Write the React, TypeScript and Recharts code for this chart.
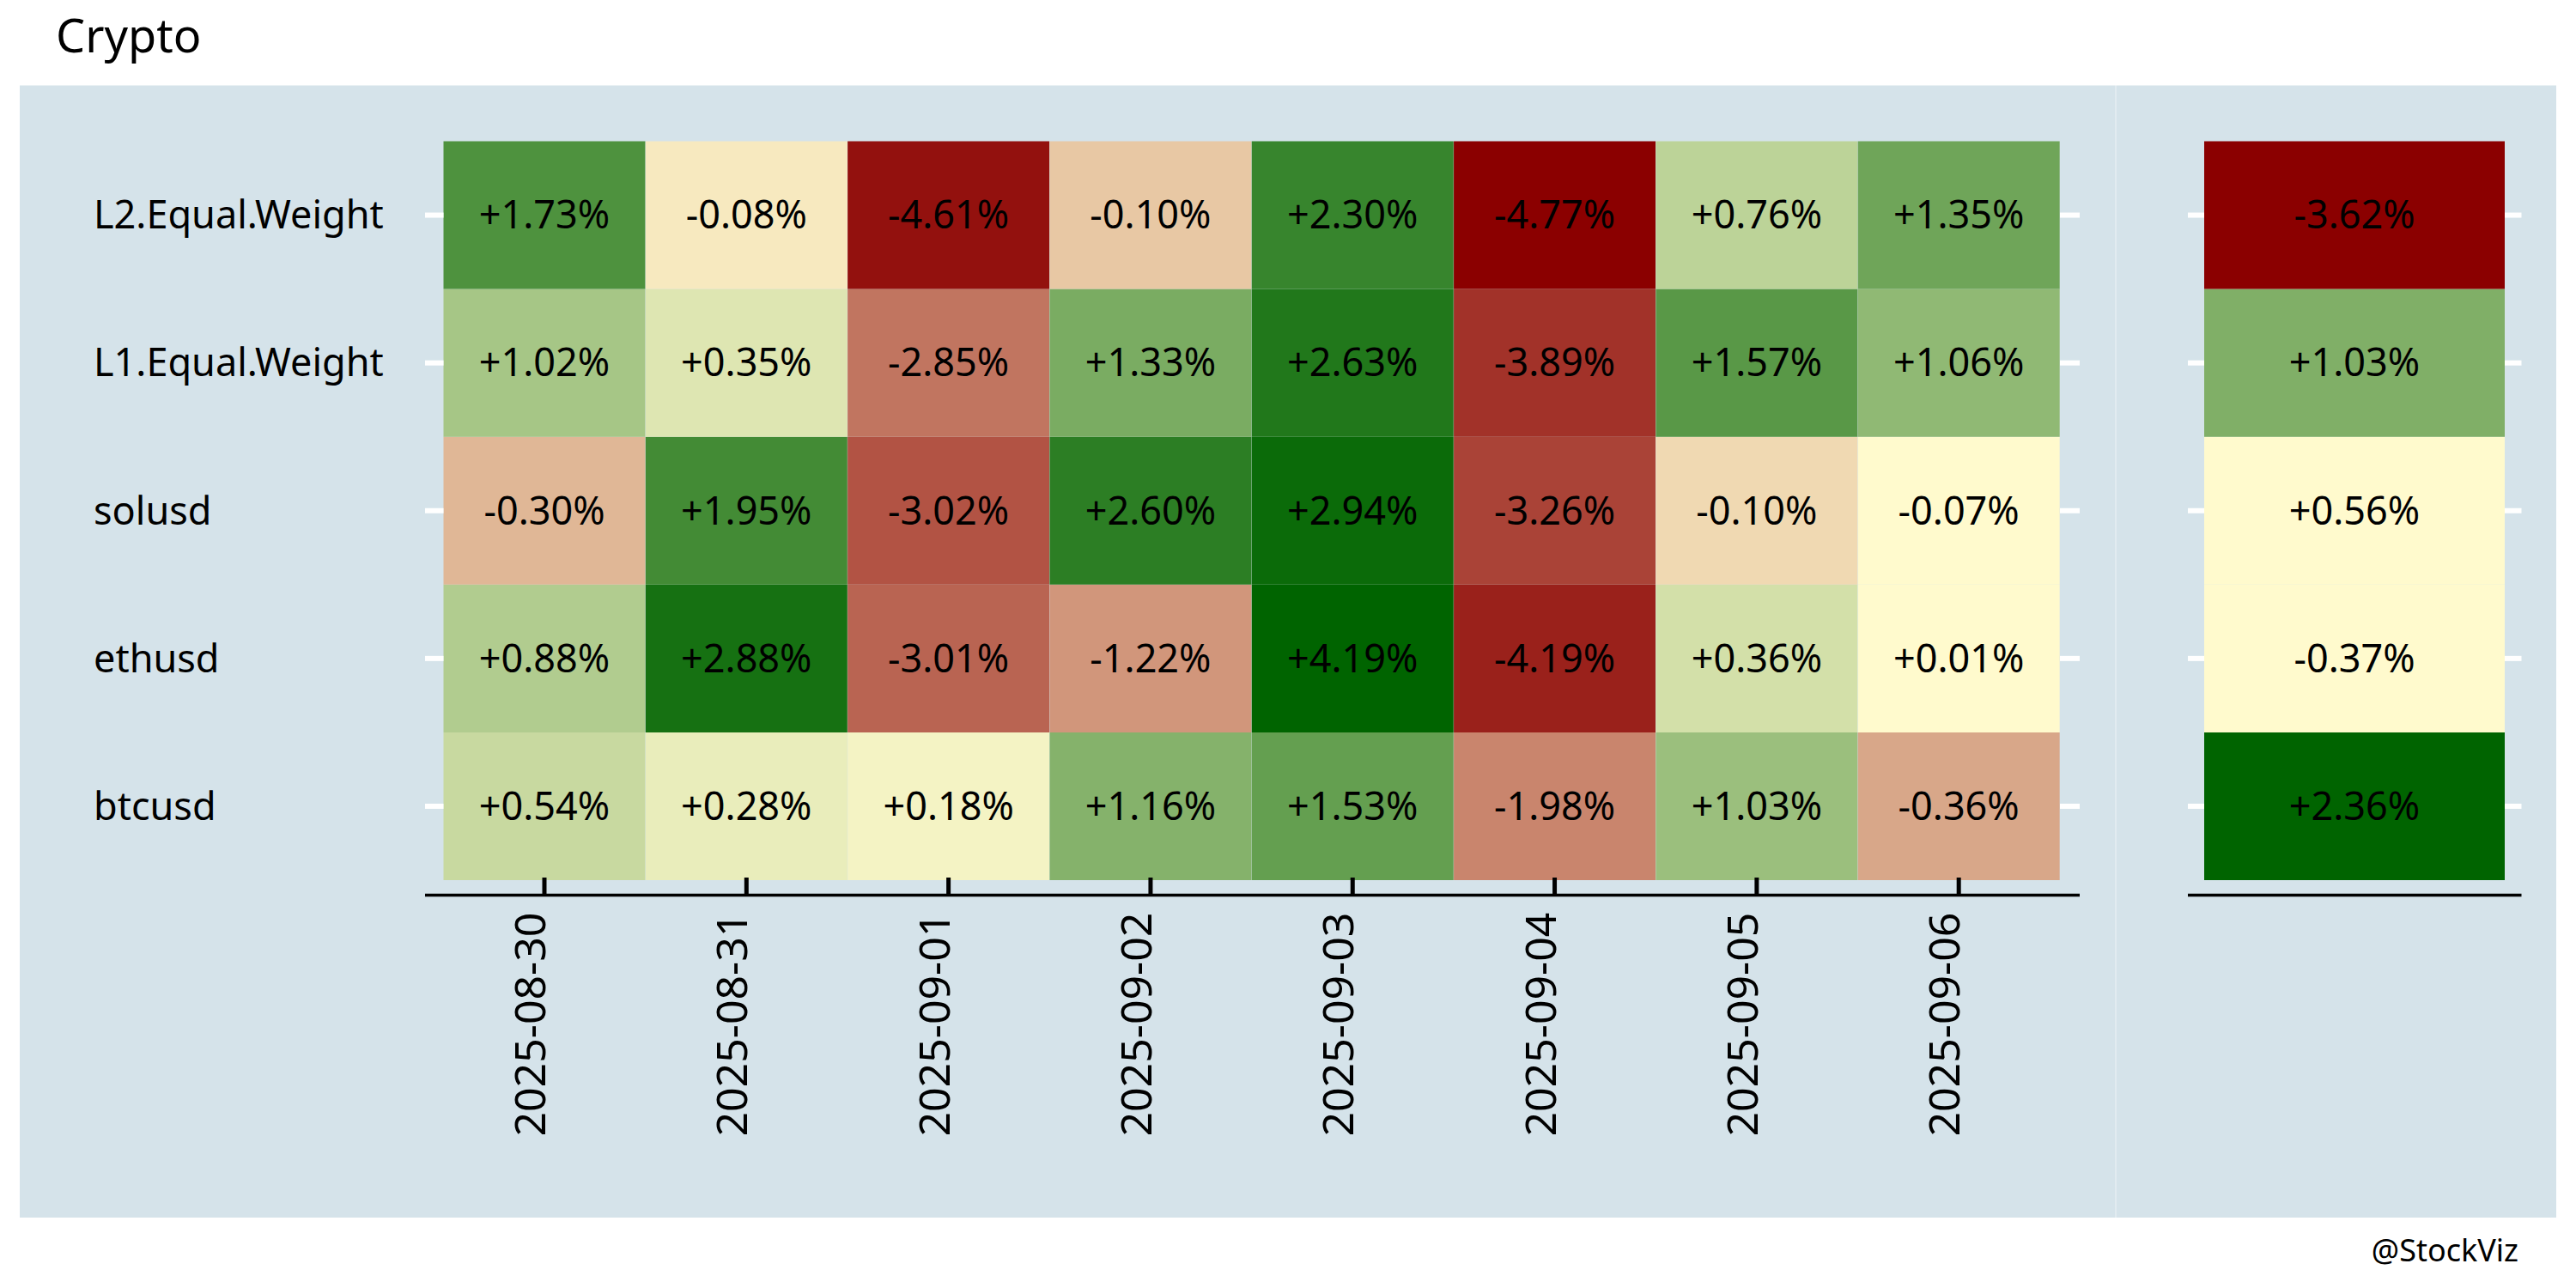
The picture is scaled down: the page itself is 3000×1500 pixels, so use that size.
import React from 'react';
import { BarChart, Bar, XAxis, YAxis, Cell, LabelList } from 'recharts';

// ---------- data ----------
const dates = ['2025-08-30', '2025-08-31', '2025-09-01', '2025-09-02', '2025-09-03', '2025-09-04', '2025-09-05', '2025-09-06'];
const rowNames = ['L2.Equal.Weight', 'L1.Equal.Weight', 'solusd', 'ethusd', 'btcusd'];
const l2Values = [1.73, -0.08, -4.61, -0.104, 2.3, -4.77, 0.76, 1.35];
const l1Values = [1.02, 0.35, -2.85, 1.33, 2.63, -3.89, 1.57, 1.06];
const solValues = [-0.3, 1.95, -3.02, 2.6, 2.94, -3.26, -0.096, -0.07];
const ethValues = [0.88, 2.88, -3.01, -1.22, 4.19, -4.19, 0.36, 0.01];
const btcValues = [0.54, 0.28, 0.18, 1.16, 1.53, -1.98, 1.03, -0.36];
const totalValues = [-3.62, 1.03, 0.56, -0.37, 2.36]; // same order as rowNames

const rowValues = [l2Values, l1Values, solValues, ethValues, btcValues];

// ---------- styles ----------
const FONT = "'Noto Sans', sans-serif";
const PANEL = '#d5e3ea';
const LOW = [139, 0, 0];
const MID = [255, 250, 205];
const HIGH = [0, 100, 0];

const mix = (a: number[], b: number[], t: number) =>
  `rgb(${a.map((c, i) => Math.round(c + (b[i] - c) * t)).join(',')})`;

// rank-based diverging fill, separately for negatives and positives
function rankColors(vals: number[]): string[] {
  const out: string[] = new Array(vals.length);
  const idx = vals.map((v, i) => [v, i] as [number, number]);
  const neg = idx.filter(([v]) => v < 0).sort((a, b) => a[0] - b[0]);
  const pos = idx.filter(([v]) => v >= 0).sort((a, b) => a[0] - b[0]);
  neg.forEach(([, i], k) => {
    out[i] = mix(LOW, MID, neg.length > 1 ? k / (neg.length - 1) : 0);
  });
  pos.forEach(([, i], k) => {
    out[i] = mix(MID, HIGH, pos.length > 1 ? k / (pos.length - 1) : 1);
  });
  return out;
}

const fmt = (v: number) => (v >= 0 ? '+' : '') + v.toFixed(2) + '%';

const flat = rowValues.flat();
const flatColors = rankColors(flat);
const leftColors = rowValues.map((_, r) => dates.map((_, c) => flatColors[r * dates.length + c]));
const totalColors = rankColors(totalValues);

const keys = ['r0', 'r1', 'r2', 'r3', 'r4'];
const leftData = dates.map((d, j) => {
  const o: any = { date: d };
  keys.forEach((k, r) => {
    o[k] = rowValues[r][j];
    o[k + '_cell'] = 1;
  });
  return o;
});
const rightData = [
  (() => {
    const o: any = { name: 'Total' };
    keys.forEach((k, r) => {
      o[k] = totalValues[r];
      o[k + '_cell'] = 1;
    });
    return o;
  })(),
];

// bottom-up stacking order
const stackOrder = [4, 3, 2, 1, 0];
const yTicks = [0.5, 1.5, 2.5, 3.5, 4.5];
const nameAt = (v: number) => rowNames[4 - Math.floor(v)];

const TICK_W = 6;
const AXIS_GAP = 17.6;
const AXIS_W = 3.5;
const X_TICK_W = 5;

const YTick = (props: any) => {
  const { x, y, payload, lenL, lenR, plotW, showLabel, labelX } = props;
  return (
    <g>
      <line x1={x} x2={x + lenL} y1={y} y2={y} stroke="#ffffff" strokeWidth={TICK_W} />
      <line x1={x + plotW - lenR} x2={x + plotW} y1={y} y2={y} stroke="#ffffff" strokeWidth={TICK_W} />
      {showLabel && (
        <text x={labelX} y={y} dy="0.35em" textAnchor="start" fontSize={45} fontFamily={FONT} fill="#000">
          {nameAt(payload.value)}
        </text>
      )}
    </g>
  );
};

const XTick = (props: any) => {
  const { x, y, payload } = props;
  return (
    <text
      transform={`translate(${x + 1},${y + 20}) rotate(-90)`}
      textAnchor="end"
      fontSize={50}
      fontFamily={FONT}
      fill="#000"
    >
      {payload.value}
    </text>
  );
};

// cell label; the bottom row also carries the x-axis tick mark (axis ticks point up into the panel)
const makeLabel = (vals: number[], withTick: boolean) => (p: any) => {
  const { x, y, width, height, index } = p;
  const v = typeof p.value === 'number' ? p.value : vals[index];
  const cx = Number(x) + Number(width) / 2;
  const bottom = Number(y) + Number(height);
  return (
    <g>
      <text
        x={cx}
        y={Number(y) + Number(height) / 2}
        dy="0.35em"
        textAnchor="middle"
        fontSize={45}
        fontFamily={FONT}
        fill="#000"
      >
        {fmt(v)}
      </text>
      {withTick && (
        <line x1={cx} x2={cx} y1={bottom - 3} y2={bottom + AXIS_GAP} stroke="#000" strokeWidth={X_TICK_W} />
      )}
    </g>
  );
};

export default function App() {
  return (
    <div style={{ position: 'absolute', left: 0, top: 0, width: 3000, height: 1500, background: '#fff', overflow: 'hidden' }}>
      <svg width={3000} height={1500} style={{ position: 'absolute', left: 0, top: 0 }}>
        <rect x={23} y={99.5} width={2440} height={1318.5} fill={PANEL} />
        <rect x={2465} y={99.5} width={512} height={1318.5} fill={PANEL} />
        <rect x={2463} y={99.5} width={2} height={1318.5} fill="#e1ebf0" />
        <text x={65} y={61} fontSize={54} fontFamily={FONT} fill="#000">Crypto</text>
        <text x={2933} y={1469} textAnchor="end" fontSize={36} fontFamily={FONT} fill="#000">@StockViz</text>
      </svg>

      <div style={{ position: 'absolute', left: 0, top: 0 }}>
        <BarChart
          width={2464}
          height={1500}
          data={leftData}
          margin={{ top: 164.5, right: 42, bottom: 157.4, left: 0 }}
          barCategoryGap={0}
          barGap={0}
        >
          <XAxis
            dataKey="date"
            type="category"
            interval={0}
            padding={{ left: 21.5, right: 23 }}
            height={300}
            tickSize={0}
            tickMargin={0}
            tickLine={false}
            axisLine={{ stroke: '#000', strokeWidth: AXIS_W }}
            tick={<XTick />}
          />
          <YAxis
            type="number"
            domain={[0, 5]}
            ticks={yTicks}
            interval={0}
            width={495}
            padding={{ top: 0, bottom: AXIS_GAP }}
            axisLine={false}
            tickLine={false}
            tickSize={0}
            tickMargin={0}
            tick={<YTick lenL={21.5} lenR={23} plotW={1927} showLabel labelX={109} />}
          />
          {stackOrder.map((r) => (
            <Bar key={keys[r]} dataKey={keys[r] + '_cell'} stackId="s" isAnimationActive={false}>
              {dates.map((d, c) => (
                <Cell key={d} fill={leftColors[r][c]} />
              ))}
              <LabelList dataKey={keys[r]} content={makeLabel(rowValues[r], r === 4)} />
            </Bar>
          ))}
        </BarChart>
      </div>

      <div style={{ position: 'absolute', left: 2464, top: 0 }}>
        <BarChart
          width={536}
          height={1500}
          data={rightData}
          margin={{ top: 164.5, right: 63.5, bottom: 157.4, left: 0 }}
          barCategoryGap={0}
          barGap={0}
        >
          <XAxis
            dataKey="name"
            type="category"
            padding={{ left: 19, right: 19.5 }}
            height={300}
            tick={false}
            tickLine={false}
            axisLine={{ stroke: '#000', strokeWidth: AXIS_W }}
          />
          <YAxis
            type="number"
            domain={[0, 5]}
            ticks={yTicks}
            interval={0}
            width={84}
            padding={{ top: 0, bottom: AXIS_GAP }}
            axisLine={false}
            tickLine={false}
            tickSize={0}
            tickMargin={0}
            tick={<YTick lenL={19} lenR={19.5} plotW={388.5} showLabel={false} />}
          />
          {stackOrder.map((r) => (
            <Bar key={keys[r]} dataKey={keys[r] + '_cell'} stackId="s" isAnimationActive={false}>
              <Cell fill={totalColors[r]} />
              <LabelList dataKey={keys[r]} content={makeLabel([totalValues[r]], false)} />
            </Bar>
          ))}
        </BarChart>
      </div>
    </div>
  );
}
